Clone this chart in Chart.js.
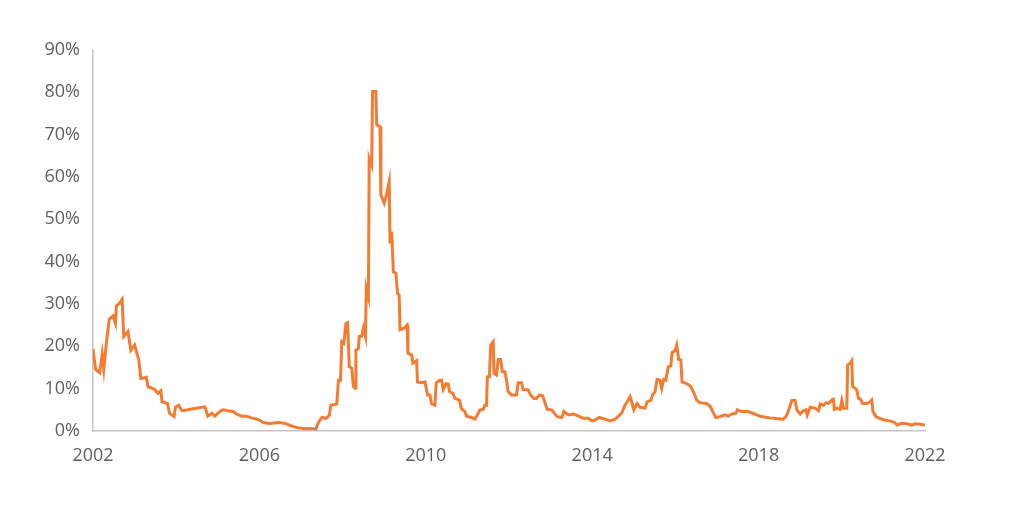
<!DOCTYPE html>
<html>
<head>
<meta charset="utf-8">
<script src="https://cdn.jsdelivr.net/npm/chart.js@4/dist/chart.umd.min.js"></script>
<style>
html,body{margin:0;padding:0;background:#fff;}
#wrap{width:1014px;height:516px;position:relative;}
</style>
</head>
<body>
<div id="wrap"><canvas id="c" width="1014" height="516"></canvas></div>
<script>
const years = [2002.00,2002.06,2002.16,2002.22,2002.26,2002.32,2002.39,2002.48,2002.54,2002.56,2002.64,2002.70,2002.74,2002.84,2002.91,2003.00,2003.10,2003.15,2003.28,2003.32,2003.47,2003.56,2003.63,2003.66,2003.79,2003.84,2003.95,2003.98,2004.06,2004.14,2004.28,2004.44,2004.69,2004.76,2004.86,2004.93,2005.05,2005.13,2005.25,2005.37,2005.45,2005.57,2005.69,2005.81,2005.94,2006.03,2006.09,2006.25,2006.45,2006.62,2006.74,2006.90,2007.06,2007.22,2007.36,2007.42,2007.50,2007.60,2007.68,2007.72,2007.86,2007.90,2007.95,2007.98,2008.03,2008.08,2008.12,2008.16,2008.22,2008.26,2008.30,2008.32,2008.38,2008.40,2008.46,2008.50,2008.55,2008.57,2008.62,2008.64,2008.70,2008.72,2008.80,2008.82,2008.90,2008.92,2009.00,2009.06,2009.12,2009.14,2009.18,2009.22,2009.28,2009.32,2009.36,2009.38,2009.48,2009.55,2009.57,2009.66,2009.69,2009.78,2009.80,2009.90,2009.98,2010.04,2010.10,2010.14,2010.22,2010.25,2010.33,2010.38,2010.42,2010.49,2010.54,2010.57,2010.65,2010.70,2010.81,2010.85,2010.94,2010.98,2011.10,2011.18,2011.24,2011.30,2011.38,2011.42,2011.46,2011.48,2011.53,2011.56,2011.62,2011.64,2011.70,2011.74,2011.80,2011.84,2011.90,2011.94,2011.98,2012.06,2012.18,2012.22,2012.30,2012.34,2012.46,2012.52,2012.60,2012.66,2012.73,2012.81,2012.87,2012.92,2013.03,2013.11,2013.16,2013.27,2013.32,2013.43,2013.55,2013.67,2013.79,2013.91,2013.99,2014.07,2014.17,2014.31,2014.43,2014.55,2014.63,2014.71,2014.79,2014.84,2014.91,2014.95,2015.00,2015.08,2015.15,2015.27,2015.32,2015.41,2015.45,2015.51,2015.56,2015.63,2015.67,2015.72,2015.77,2015.83,2015.89,2015.92,2015.99,2016.03,2016.08,2016.13,2016.16,2016.27,2016.37,2016.45,2016.51,2016.59,2016.75,2016.83,2016.88,2016.97,2017.07,2017.19,2017.27,2017.35,2017.46,2017.49,2017.59,2017.75,2017.86,2017.95,2018.07,2018.27,2018.47,2018.59,2018.66,2018.71,2018.80,2018.88,2018.92,2019.00,2019.08,2019.14,2019.17,2019.24,2019.36,2019.44,2019.48,2019.56,2019.62,2019.68,2019.76,2019.80,2019.82,2019.88,2019.96,2020.00,2020.04,2020.12,2020.14,2020.20,2020.24,2020.26,2020.32,2020.36,2020.40,2020.45,2020.50,2020.60,2020.68,2020.72,2020.75,2020.82,2020.91,2021.03,2021.15,2021.27,2021.33,2021.44,2021.56,2021.68,2021.76,2021.88,2022.00];
const values = [19.4,14.6,13.8,18.2,14.6,20.7,26.4,27.2,25.4,29.5,30.2,31.1,22.3,23.5,19.1,20.3,16.8,12.4,12.7,10.5,9.9,8.9,9.5,6.9,6.5,4.2,3.4,5.6,6.1,4.8,5.0,5.3,5.7,3.5,4.2,3.5,4.6,5.0,4.8,4.6,4.0,3.5,3.5,3.1,2.8,2.4,2.0,1.8,2.0,1.8,1.3,0.8,0.6,0.6,0.5,2.0,3.2,3.0,3.7,6.1,6.4,12.0,12.0,21.1,20.7,25.4,25.6,15.2,14.8,10.5,10.1,19.1,19.5,22.3,22.4,24.3,22.3,33.7,31.7,64.4,62.8,80.2,80.2,72.3,71.9,55.8,53.8,56.1,58.9,44.3,47.1,37.6,37.3,32.5,32.1,23.9,24.3,25.0,18.4,18.0,16.0,16.6,11.6,11.4,11.6,8.5,8.5,6.4,6.1,11.4,12.0,12.0,9.8,11.2,11.1,9.3,8.9,7.7,7.3,5.4,4.6,3.5,3.2,2.8,3.8,5.0,5.1,6.1,6.1,12.8,12.8,20.3,21.1,13.6,13.2,16.9,16.9,14.0,14.0,12.0,9.3,8.5,8.5,11.4,11.4,9.8,9.7,8.5,7.7,7.7,8.5,8.3,6.5,5.1,5.0,4.0,3.4,3.2,4.6,3.8,4.0,3.5,3.0,3.0,2.4,2.6,3.2,2.8,2.4,2.8,3.5,4.3,6.1,6.9,8.1,6.9,5.0,6.5,5.6,5.4,6.9,7.3,8.5,9.3,12.2,12.0,10.1,12.2,12.0,15.2,15.4,18.5,19.0,20.3,16.9,16.8,11.6,11.2,10.5,8.9,7.3,6.7,6.5,5.9,5.0,3.2,3.4,3.8,3.5,4.0,4.2,5.0,4.6,4.6,4.2,3.8,3.4,3.1,2.9,2.8,3.4,4.6,7.2,7.2,5.0,4.0,4.8,5.0,3.8,5.6,5.4,4.8,6.4,6.1,6.7,6.5,7.3,7.5,5.1,5.4,5.1,7.2,5.4,5.4,15.6,16.0,16.6,10.5,10.1,9.7,7.7,7.5,6.5,6.5,6.9,7.3,4.6,3.4,3.0,2.6,2.4,2.0,1.4,1.8,1.7,1.4,1.7,1.6,1.4];
const xTicks = [2002, 2006, 2010, 2014, 2018, 2022];
const yTicks = [0, 10, 20, 30, 40, 50, 60, 70, 80, 90];

const points = years.map((x, i) => ({x: x, y: values[i]}));
const textColor = '#5f5f5f';
const axisColor = '#c4c4c4';

new Chart(document.getElementById('c'), {
  type: 'line',
  data: {
    datasets: [{
      data: points,
      borderColor: '#f47b30',
      borderWidth: 3,
      pointRadius: 0,
      tension: 0,
      fill: false
    }]
  },
  options: {
    responsive: false,
    animation: false,
    layout: {padding: {top: 50, right: 89, left: 0, bottom: 0}},
    plugins: {legend: {display: false}, tooltip: {enabled: false}},
    scales: {
      x: {
        type: 'linear',
        min: 2002, max: 2022,
        afterBuildTicks: s => { s.ticks = xTicks.map(v => ({value: v})); },
        afterFit: s => { s.height = 85; },
        grid: {display: false, drawTicks: false},
        border: {display: true, color: axisColor, width: 1.5},
        ticks: {
          padding: 14,
          color: textColor,
          font: {family: '"Open Sans", sans-serif', size: 18},
          callback: v => String(v),
          maxRotation: 0
        }
      },
      y: {
        min: 0, max: 90,
        afterBuildTicks: s => { s.ticks = yTicks.map(v => ({value: v})); },
        afterFit: s => { s.width = 93; },
        grid: {display: false, drawTicks: false},
        border: {display: true, color: axisColor, width: 1.5},
        ticks: {
          padding: 13,
          color: textColor,
          font: {family: '"Open Sans", sans-serif', size: 18},
          callback: v => v + '%'
        }
      }
    }
  }
});
</script>
</body>
</html>
